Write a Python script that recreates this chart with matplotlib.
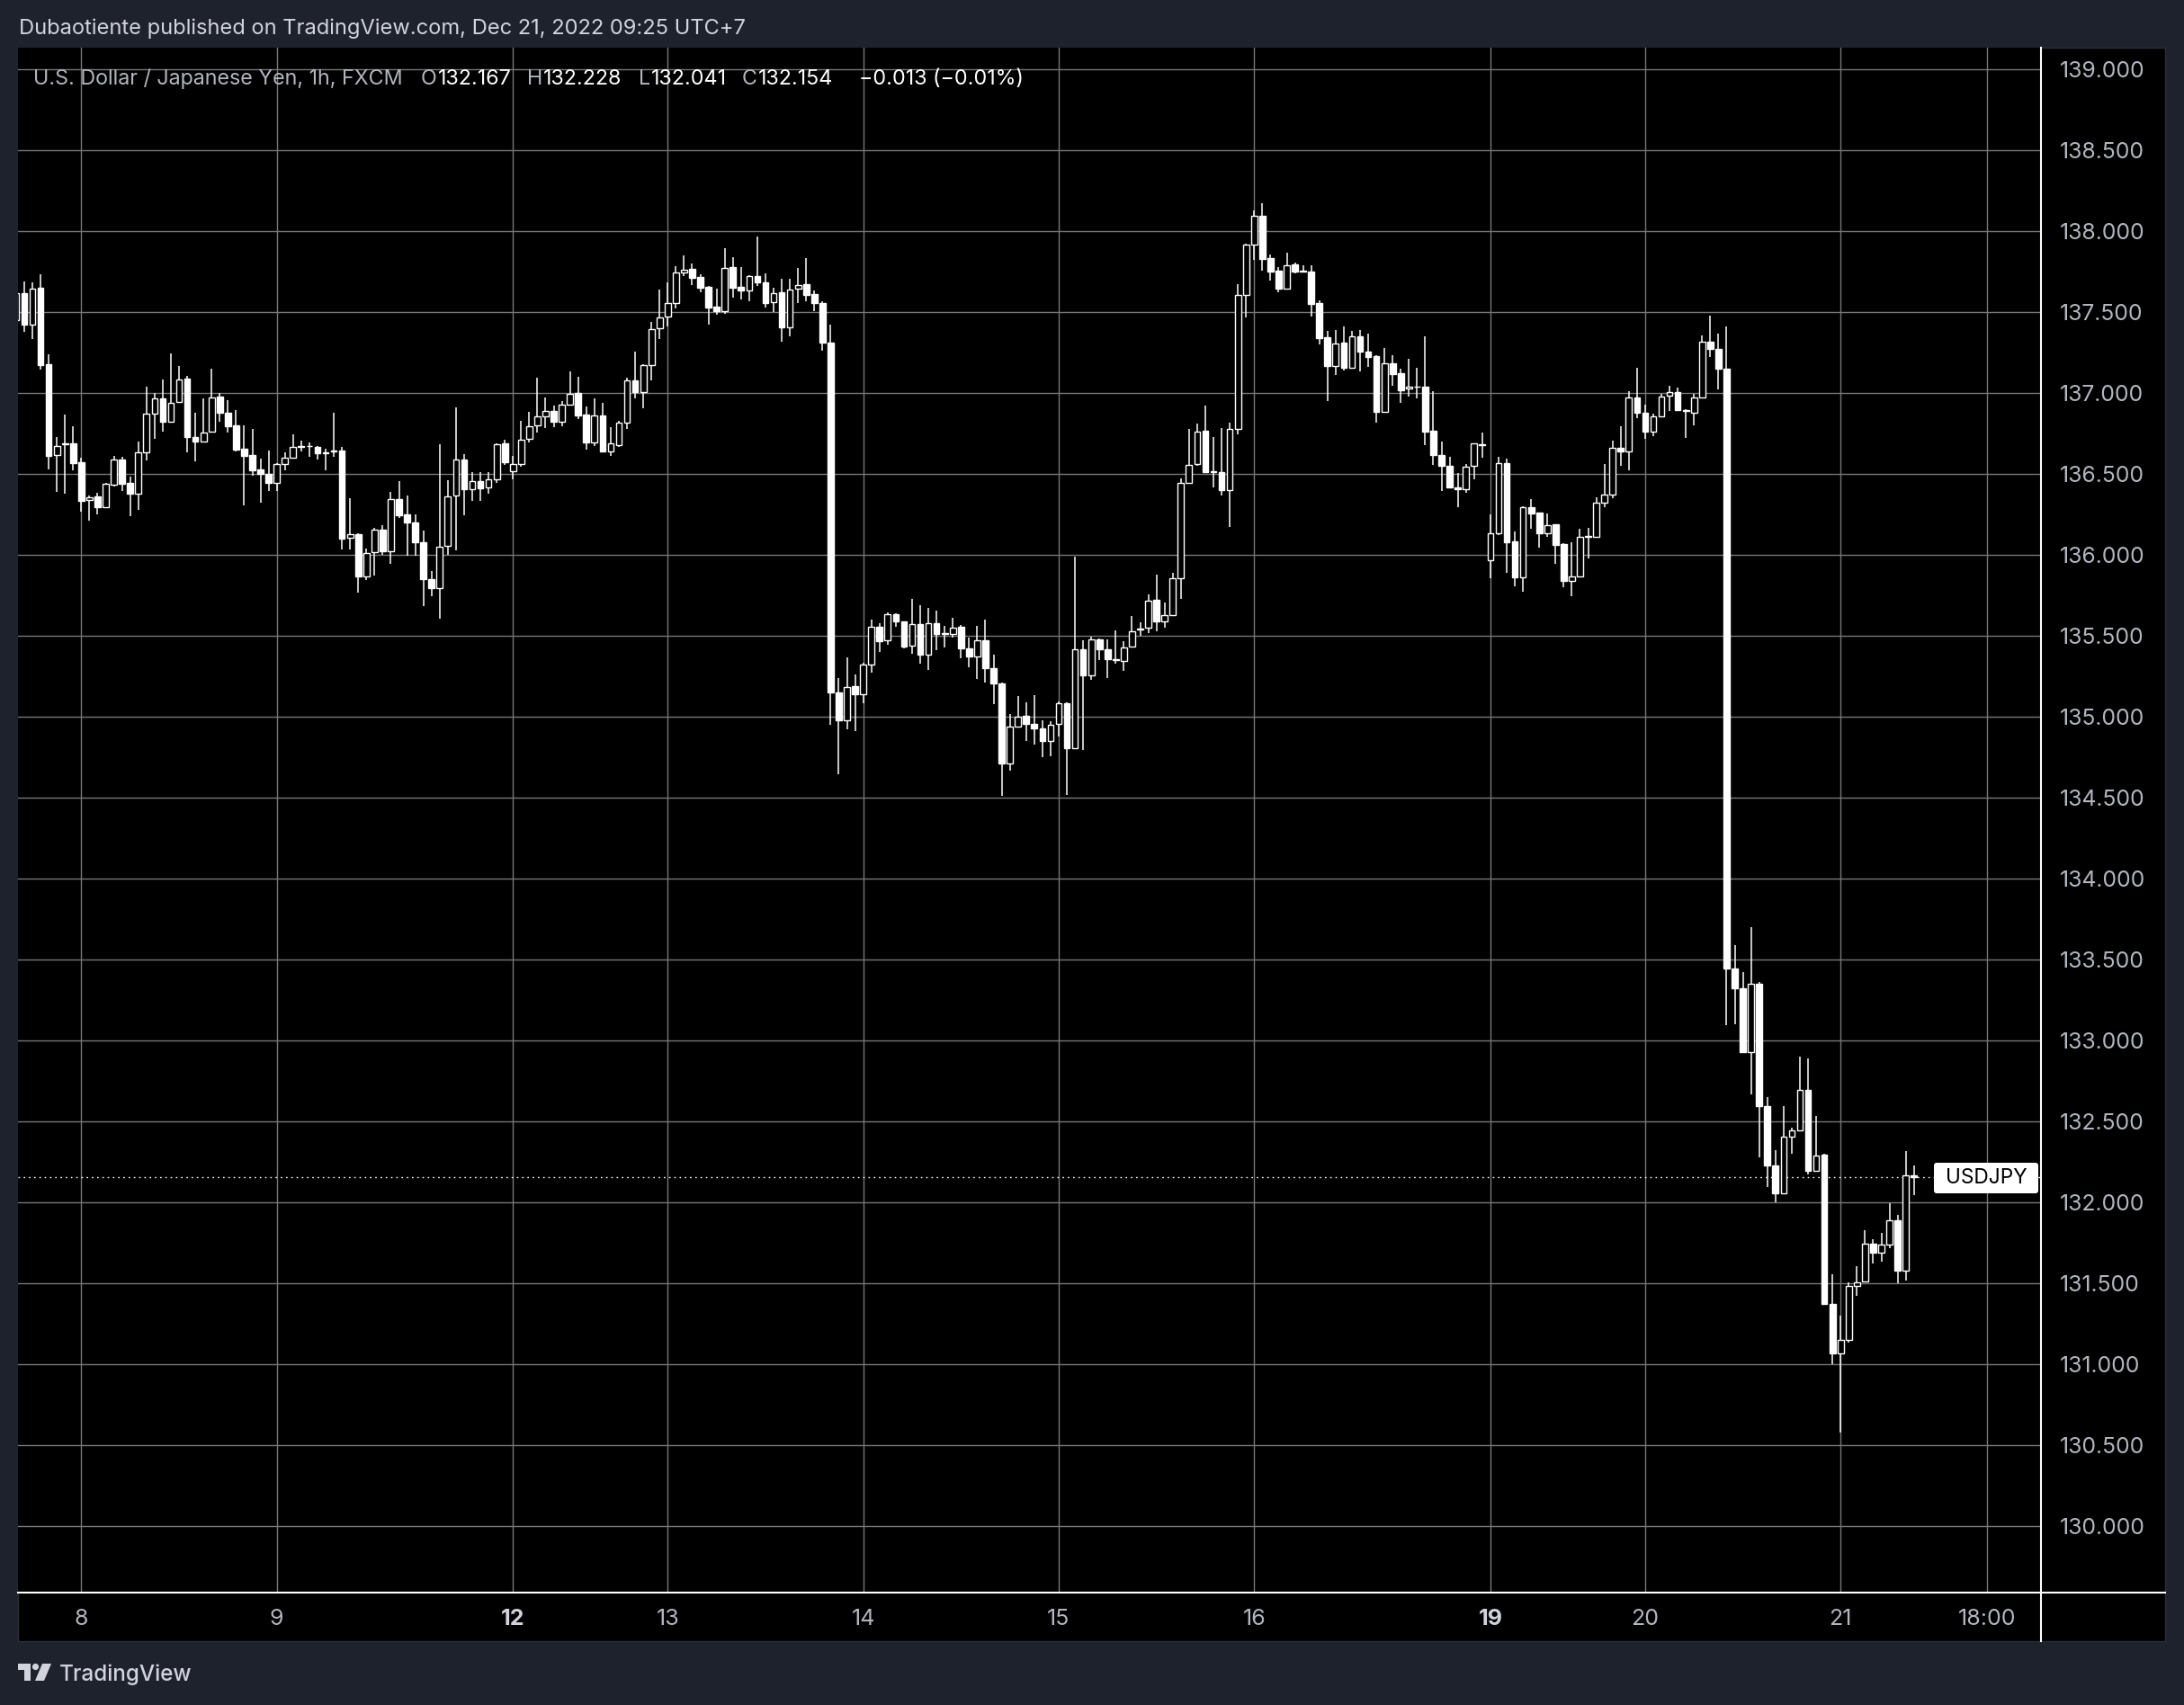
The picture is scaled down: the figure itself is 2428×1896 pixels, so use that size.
import matplotlib
matplotlib.use('Agg')
import matplotlib.pyplot as plt
import numpy as np
from matplotlib.patches import Rectangle, FancyBboxPatch, Polygon, Circle
from matplotlib.lines import Line2D
from matplotlib.transforms import IdentityTransform

plt.rcParams['font.family'] = ['Inter', 'DejaVu Sans']

# ---------------- data (hourly candles, Dec 7 16:00 -> Dec 21 09:00, UTC+7) ----------------
opens = [
    137.450, 137.615, 137.422, 137.648, 137.174, 136.615, 136.680, 136.685, 136.569, 136.337,
    136.357, 136.291, 136.433, 136.587, 136.441, 136.378, 136.630, 136.870, 136.963, 136.822,
    136.941, 137.085, 136.728, 136.700, 136.759, 136.978, 136.874, 136.796, 136.652, 136.615,
    136.524, 136.500, 136.444, 136.561, 136.600, 136.665, 136.668, 136.667, 136.628, 136.637,
    136.643, 136.102, 136.126, 135.865, 136.015, 136.152, 136.019, 136.344, 136.248, 136.200,
    136.074, 135.846, 135.791, 136.056, 136.365, 136.589, 136.402, 136.454, 136.415, 136.467,
    136.685, 136.515, 136.561, 136.713, 136.798, 136.854, 136.889, 136.819, 136.924, 136.996,
    136.865, 136.691, 136.859, 136.639, 136.676, 136.815, 137.074, 137.006, 137.170, 137.396,
    137.469, 137.556, 137.744, 137.763, 137.713, 137.654, 137.531, 137.506, 137.776, 137.652,
    137.633, 137.719, 137.681, 137.559, 137.619, 137.404, 137.643, 137.670, 137.607, 137.552,
    137.311, 135.150, 134.977, 135.188, 135.137, 135.319, 135.553, 135.469, 135.634, 135.587,
    135.437, 135.568, 135.381, 135.578, 135.510, 135.512, 135.555, 135.418, 135.368, 135.469,
    135.296, 135.203, 134.709, 134.936, 135.002, 134.953, 134.925, 134.850, 134.953, 135.081,
    134.803, 135.413, 135.253, 135.478, 135.413, 135.350, 135.343, 135.433, 135.538, 135.546,
    135.719, 135.587, 135.625, 135.854, 136.445, 136.557, 136.764, 136.510, 136.509, 136.398,
    136.774, 137.602, 137.915, 138.093, 137.830, 137.754, 137.644, 137.791, 137.750, 137.746,
    137.552, 137.343, 137.167, 137.309, 137.154, 137.346, 137.256, 137.226, 136.880, 137.180,
    137.120, 137.024, 137.035, 137.037, 136.763, 136.617, 136.546, 136.417, 136.404, 136.546,
    136.678, 135.963, 136.130, 136.565, 136.080, 135.861, 136.293, 136.259, 136.133, 136.185,
    136.065, 135.839, 135.865, 136.109, 136.111, 136.321, 136.369, 136.662, 136.636, 136.971,
    136.877, 136.759, 136.853, 136.981, 137.002, 136.890, 136.879, 136.971, 137.317, 137.270,
    137.146, 133.445, 133.323, 132.925, 133.346, 132.591, 132.226, 132.053, 132.403, 132.444,
    132.690, 132.191, 132.292, 131.372, 131.064, 131.149, 131.483, 131.510, 131.740, 131.689,
    131.736, 131.885, 131.575, 132.167,
]
highs = [
    137.660, 137.685, 137.681, 137.731, 137.235, 136.726, 136.863, 136.793, 136.596, 136.367,
    136.380, 136.443, 136.607, 136.602, 136.481, 136.698, 137.037, 137.000, 137.081, 137.241,
    137.165, 137.104, 136.876, 136.963, 137.148, 137.000, 136.954, 136.893, 136.796, 136.774,
    136.593, 136.641, 136.565, 136.630, 136.744, 136.704, 136.693, 136.670, 136.656, 136.874,
    136.663, 136.346, 136.130, 136.037, 136.167, 136.181, 136.389, 136.454, 136.365, 136.250,
    136.148, 135.898, 136.680, 136.459, 136.911, 136.620, 136.507, 136.507, 136.507, 136.685,
    136.707, 136.607, 136.824, 136.881, 137.093, 136.970, 136.920, 136.950, 137.130, 137.096,
    136.915, 136.963, 136.935, 136.785, 136.824, 137.093, 137.254, 137.176, 137.435, 137.639,
    137.681, 137.781, 137.848, 137.796, 137.731, 137.657, 137.643, 137.893, 137.837, 137.776,
    137.726, 137.963, 137.737, 137.648, 137.704, 137.704, 137.772, 137.830, 137.630, 137.565,
    137.420, 135.236, 135.366, 135.259, 135.334, 135.597, 135.578, 135.644, 135.640, 135.590,
    135.724, 135.687, 135.672, 135.653, 135.559, 135.612, 135.563, 135.488, 135.559, 135.597,
    135.381, 135.208, 135.015, 135.128, 135.086, 135.131, 134.977, 134.968, 135.094, 135.085,
    135.985, 135.469, 135.493, 135.480, 135.475, 135.531, 135.465, 135.621, 135.583, 135.756,
    135.874, 135.704, 135.887, 136.473, 136.779, 136.807, 136.919, 136.726, 136.781, 136.815,
    137.670, 137.920, 138.126, 138.170, 137.852, 137.778, 137.865, 137.806, 137.787, 137.787,
    137.569, 137.380, 137.385, 137.407, 137.380, 137.389, 137.365, 137.230, 137.278, 137.231,
    137.148, 137.209, 137.154, 137.348, 137.009, 136.698, 136.602, 136.504, 136.559, 136.690,
    136.754, 136.250, 136.606, 136.593, 136.143, 136.300, 136.343, 136.260, 136.254, 136.190,
    136.070, 136.074, 136.161, 136.167, 136.352, 136.562, 136.706, 136.795, 137.008, 137.154,
    136.924, 136.871, 136.994, 137.042, 137.034, 136.898, 136.994, 137.356, 137.479, 137.364,
    137.408, 133.587, 133.419, 133.698, 133.357, 132.649, 132.322, 132.591, 132.460, 132.897,
    132.886, 132.529, 132.300, 131.552, 131.298, 131.506, 131.602, 131.828, 131.770, 131.812,
    131.993, 131.920, 132.315, 132.228,
]
lows = [
    137.420, 137.378, 137.333, 137.144, 136.528, 136.389, 136.378, 136.522, 136.267, 136.211,
    136.250, 136.285, 136.422, 136.393, 136.237, 136.274, 136.583, 136.717, 136.759, 136.815,
    136.935, 136.633, 136.574, 136.693, 136.755, 136.819, 136.756, 136.637, 136.306, 136.485,
    136.319, 136.394, 136.394, 136.522, 136.597, 136.639, 136.604, 136.589, 136.519, 136.606,
    136.033, 136.033, 135.763, 135.841, 135.870, 135.996, 135.941, 136.228, 135.991, 135.991,
    135.680, 135.741, 135.602, 136.000, 136.028, 136.244, 136.333, 136.333, 136.378, 136.444,
    136.556, 136.467, 136.544, 136.691, 136.756, 136.781, 136.789, 136.793, 136.920, 136.837,
    136.648, 136.672, 136.635, 136.611, 136.667, 136.778, 136.967, 136.904, 137.078, 137.330,
    137.411, 137.519, 137.722, 137.667, 137.620, 137.422, 137.481, 137.485, 137.589, 137.578,
    137.565, 137.661, 137.528, 137.500, 137.315, 137.348, 137.556, 137.565, 137.504, 137.259,
    134.946, 134.645, 134.921, 134.912, 135.084, 135.272, 135.400, 135.443, 135.555, 135.418,
    135.390, 135.328, 135.287, 135.409, 135.424, 135.488, 135.362, 135.306, 135.231, 135.208,
    135.075, 134.508, 134.664, 134.931, 134.846, 134.827, 134.749, 134.756, 134.874, 134.514,
    134.799, 134.795, 135.225, 135.347, 135.235, 135.325, 135.281, 135.430, 135.497, 135.516,
    135.525, 135.550, 135.620, 135.728, 136.440, 136.550, 136.503, 136.417, 136.367, 136.172,
    136.741, 137.467, 137.819, 137.756, 137.694, 137.620, 137.640, 137.735, 137.741, 137.472,
    137.296, 136.950, 137.111, 137.139, 137.150, 137.130, 137.157, 136.815, 136.875, 137.043,
    136.939, 136.976, 136.967, 136.676, 136.556, 136.393, 136.410, 136.291, 136.380, 136.463,
    136.596, 135.852, 136.120, 135.885, 135.806, 135.769, 136.157, 136.041, 136.111, 135.941,
    135.800, 135.744, 135.860, 135.978, 136.110, 136.295, 136.348, 136.549, 136.518, 136.845,
    136.714, 136.733, 136.850, 136.890, 136.890, 136.719, 136.801, 136.970, 137.220, 137.023,
    133.093, 133.097, 132.920, 132.667, 132.276, 132.092, 132.000, 132.050, 132.299, 132.440,
    132.173, 132.185, 131.363, 131.000, 130.574, 131.131, 131.418, 131.505, 131.621, 131.632,
    131.717, 131.499, 131.517, 132.041,
]
closes = [
    137.615, 137.422, 137.644, 137.170, 136.611, 136.672, 136.685, 136.567, 136.333, 136.356,
    136.291, 136.437, 136.585, 136.439, 136.378, 136.630, 136.869, 136.963, 136.822, 136.939,
    137.083, 136.728, 136.700, 136.756, 136.972, 136.874, 136.794, 136.648, 136.611, 136.522,
    136.500, 136.444, 136.559, 136.598, 136.663, 136.667, 136.671, 136.624, 136.631, 136.639,
    136.096, 136.124, 135.865, 136.011, 136.152, 136.019, 136.344, 136.244, 136.196, 136.074,
    135.846, 135.791, 136.050, 136.361, 136.589, 136.402, 136.454, 136.411, 136.467, 136.681,
    136.570, 136.559, 136.711, 136.794, 136.852, 136.887, 136.819, 136.924, 136.994, 136.859,
    136.691, 136.857, 136.639, 136.685, 136.815, 137.074, 137.006, 137.170, 137.394, 137.467,
    137.556, 137.741, 137.759, 137.711, 137.648, 137.528, 137.506, 137.772, 137.648, 137.630,
    137.719, 137.680, 137.556, 137.617, 137.404, 137.639, 137.667, 137.606, 137.552, 137.311,
    135.146, 134.977, 135.184, 135.137, 135.319, 135.553, 135.465, 135.634, 135.587, 135.432,
    135.568, 135.381, 135.578, 135.512, 135.514, 135.550, 135.418, 135.368, 135.469, 135.296,
    135.203, 134.709, 134.940, 135.000, 134.953, 134.925, 134.850, 134.949, 135.081, 134.803,
    135.413, 135.253, 135.478, 135.413, 135.353, 135.355, 135.428, 135.527, 135.542, 135.715,
    135.587, 135.625, 135.854, 136.445, 136.553, 136.760, 136.507, 136.513, 136.398, 136.774,
    137.602, 137.915, 138.093, 137.828, 137.750, 137.644, 137.787, 137.750, 137.752, 137.550,
    137.339, 137.167, 137.306, 137.154, 137.346, 137.256, 137.222, 136.880, 137.180, 137.117,
    137.015, 137.037, 137.037, 136.759, 136.615, 136.546, 136.413, 136.404, 136.543, 136.685,
    136.683, 136.130, 136.565, 136.078, 135.861, 136.293, 136.256, 136.133, 136.181, 136.059,
    135.839, 135.867, 136.111, 136.113, 136.319, 136.369, 136.662, 136.636, 136.971, 136.877,
    136.759, 136.853, 136.976, 137.002, 136.892, 136.893, 136.971, 137.317, 137.270, 137.146,
    133.445, 133.323, 132.925, 133.346, 132.591, 132.226, 132.053, 132.403, 132.444, 132.690,
    132.191, 132.288, 131.372, 131.064, 131.149, 131.483, 131.506, 131.740, 131.689, 131.736,
    131.885, 131.575, 132.167, 132.154,
]

title_text = "Dubaotiente published on TradingView.com, Dec 21, 2022 09:25 UTC+7"
symbol_name = "U.S. Dollar / Japanese Yen, 1h, FXCM"
ohlc_letters = ["O", "H", "L", "C"]
ohlc_values = ["132.167", "132.228", "132.041", "132.154"]
change_text = "\u22120.013 (\u22120.01%)"
symbol_tag = "USDJPY"
last_price = 132.154
price_ticks = [130.0 + 0.5 * k for k in range(19)]
day_tick_bars = [8, 32, 61, 80, 104, 128, 152, 181, 200, 224, 242]
day_tick_labels = ["8", "9", "12", "13", "14", "15", "16", "19", "20", "21", "18:00"]
bold_ticks = {"12", "19"}

# ---------------- figure ----------------
W, H = 2428, 1896
DPI = 100
fig = plt.figure(figsize=(W / DPI, H / DPI), dpi=DPI)
fig.patch.set_facecolor('#1e222d')

def fx(px):
    return px / W

def fy(py):
    return 1 - py / H

GREY = '#b2b5be'
LIGHT = '#d1d4dc'

fig.add_artist(Rectangle((fx(20), fy(1825)), fx(2407) - fx(20), fy(53) - fy(1825),
                         transform=fig.transFigure, facecolor='black',
                         edgecolor='#2a2e39', lw=1, zorder=-1))

ax = fig.add_axes([fx(20), fy(1771), fx(2269) - fx(20), fy(53) - fy(1771)])
ax.set_facecolor('black')
for s in ax.spines.values():
    s.set_visible(False)
ax.set_xlim(0.23, 248.6)
ax.set_ylim(129.587, 139.132)

o = np.array(opens); h = np.array(highs); l = np.array(lows); c = np.array(closes)
n = min(len(o), len(h), len(l), len(c))
o, h, l, c = o[:n], h[:n], l[:n], c[:n]
x = np.arange(n)
up = c >= o
ax.vlines(x, l, h, color='white', lw=1.1, zorder=3)
bb = np.minimum(o, c)
bh = np.maximum(np.abs(c - o), 0.004)
ax.bar(x[up], bh[up], bottom=bb[up], width=0.74, facecolor='black',
       edgecolor='white', linewidth=1.0, zorder=4)
ax.bar(x[~up], bh[~up], bottom=bb[~up], width=0.74, facecolor='white',
       edgecolor='white', linewidth=1.0, zorder=4)

ax.axhline(last_price, color='white', lw=1.0, ls=(0, (1.2, 3.0)), zorder=2)

ax.set_yticks(price_ticks)
ax.set_yticklabels([f"{p:.3f}" for p in price_ticks])
ax.yaxis.tick_right()
ax.tick_params(axis='y', length=0, pad=15.1, labelsize=16.5, labelcolor=GREY)
ax.set_xticks(day_tick_bars)
ax.set_xticklabels(day_tick_labels)
ax.tick_params(axis='x', length=0, pad=13.0, labelsize=15.5, labelcolor=GREY)
for t in ax.get_xticklabels():
    if t.get_text() in bold_ticks:
        t.set_fontweight('bold')
        t.set_color(LIGHT)
ax.grid(True, color='#777777', lw=1.0)
ax.set_axisbelow(True)

# border lines
fig.add_artist(Line2D([fx(20), fx(2407)], [fy(1771), fy(1771)], transform=fig.transFigure,
                      color='white', lw=1.5, zorder=5))
fig.add_artist(Line2D([fx(2269), fx(2269)], [fy(53), fy(1825)], transform=fig.transFigure,
                      color='white', lw=1.5, zorder=5))

# symbol tag on price scale
tag = FancyBboxPatch((2150, H - 1327), 116, 34, boxstyle="round,pad=0,rounding_size=3",
                     transform=IdentityTransform(), facecolor='white', edgecolor='none', zorder=6)
fig.add_artist(tag)
tag_txt = fig.text(fx(2208), fy(1310), symbol_tag, ha='center', va='center',
                   color='black', fontsize=15, zorder=7)

# texts
title = fig.text(fx(21), fy(32), title_text, ha='left', va='center', color=LIGHT, fontsize=15.5)
HY = 88
name = fig.text(fx(37), fy(HY), symbol_name, ha='left', va='center', color=GREY, fontsize=15, zorder=6)
letter_x = [468, 586, 710, 825]
letters = [fig.text(fx(px), fy(HY), s, ha='left', va='center', color=GREY, fontsize=15, zorder=6)
           for px, s in zip(letter_x, ohlc_letters)]
values = [fig.text(fx(px + 14), fy(HY), s, ha='left', va='center', color='white', fontsize=15, zorder=6)
          for px, s in zip(letter_x, ohlc_values)]
chg = fig.text(fx(955), fy(HY), change_text, ha='left', va='center', color='white', fontsize=15, zorder=6)

# footer logo
logo_col = '#d1d4dc'
def P(pts):
    return [(px, H - py) for px, py in pts]
fig.add_artist(Polygon(P([(20, 1850), (34, 1850), (34, 1869), (27, 1869), (27, 1857), (20, 1857)]),
                       closed=True, transform=IdentityTransform(), facecolor=logo_col, edgecolor='none'))
fig.add_artist(Circle((39.5, H - 1853.5), 3.6, transform=IdentityTransform(), facecolor=logo_col, edgecolor='none'))
fig.add_artist(Polygon(P([(47, 1850), (57, 1850), (49, 1869), (39, 1869)]),
                       closed=True, transform=IdentityTransform(), facecolor=logo_col, edgecolor='none'))
footer = fig.text(fx(66), fy(1862), "TradingView", ha='left', va='center', color=logo_col,
                  fontsize=17, fontweight='medium')

# ---------------- fit text sizes to measured widths ----------------
fig.canvas.draw()
r = fig.canvas.get_renderer()

def wpx(t):
    return t.get_window_extent(r).width

def fit(t, target):
    t.set_fontsize(t.get_fontsize() * target / wpx(t))

fit(title, 808)
fit(name, 413)
fit(footer, 148)
fit(tag_txt, 91)
fs = name.get_fontsize()
for t in letters + values + [chg]:
    t.set_fontsize(fs)

yl = ax.get_yticklabels()[0]
ysz = 16.5 * 95 / wpx(yl)
ax.tick_params(axis='y', labelsize=ysz)
xl = ax.get_xticklabels()[-1]
xsz = 15.5 * 64 / wpx(xl)
ax.tick_params(axis='x', labelsize=xsz)

fig.canvas.draw()
r = fig.canvas.get_renderer()
for lt, vt in zip(letters, values):
    bb_ = lt.get_window_extent(r)
    vt.set_x(fx(bb_.x1 + 1))

fig.savefig('out.png', dpi=DPI, facecolor=fig.get_facecolor())
